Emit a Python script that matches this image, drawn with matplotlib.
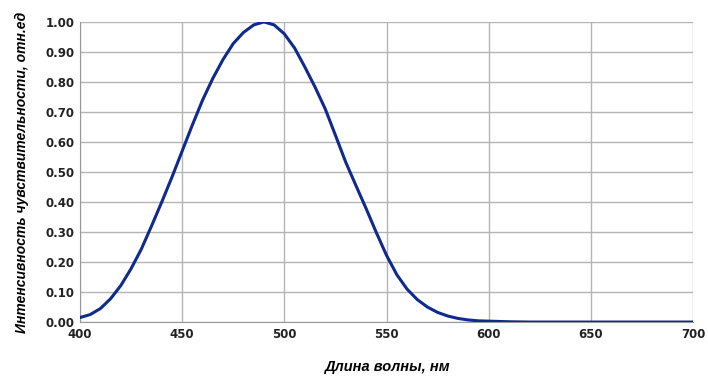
import matplotlib.pyplot as plt
import numpy as np

# wavelength (nm) and relative sensitivity
wavelength = [400, 405, 410, 415, 420, 425, 430, 435, 440, 445, 450, 455,
              460, 465, 470, 475, 480, 485, 490, 495, 500, 505, 510, 515,
              520, 525, 530, 535, 540, 545, 550, 555, 560, 565, 570, 575,
              580, 585, 590, 595, 600, 610, 620, 640, 660, 680, 700]
sensitivity = [0.015, 0.025, 0.045, 0.078, 0.122, 0.178, 0.243, 0.32, 0.40, 0.483,
               0.57, 0.657, 0.74, 0.812, 0.875, 0.928, 0.965, 0.99, 1.00, 0.99,
               0.96, 0.913, 0.85, 0.783, 0.71, 0.622, 0.533, 0.455, 0.378, 0.298,
               0.222, 0.158, 0.11, 0.075, 0.05, 0.032, 0.02, 0.012, 0.007,
               0.004, 0.003, 0.001, 0.0, 0.0, 0.0, 0.0, 0.0]

xticks = [400, 450, 500, 550, 600, 650, 700]
yticks = np.round(np.arange(0, 1.01, 0.1), 2)

label_font = ['Liberation Sans', 'DejaVu Sans']

fig = plt.figure(figsize=(7.08, 3.78), dpi=100)
ax = fig.add_axes([0.113, 0.148, 0.866, 0.794])

ax.plot(wavelength, sensitivity, color='#0d2a8c', lw=2.2, solid_capstyle='round',
        solid_joinstyle='round', zorder=3)

ax.set_xlim(400, 700)
ax.set_ylim(0, 1.0)
ax.set_xticks(xticks)
ax.set_yticks(yticks)
ax.set_yticklabels(['%.2f' % v for v in yticks])
ax.grid(True, color='#b4b4b4', lw=1.0)
ax.tick_params(length=0, labelsize=8.5, pad=4, colors='#222222')
for lbl in ax.get_xticklabels() + ax.get_yticklabels():
    lbl.set_fontweight('bold')

for s in ['top', 'right']:
    ax.spines[s].set_visible(False)
for s in ['left', 'bottom']:
    ax.spines[s].set_color('#999999')

ax.set_xlabel('Длина волны, нм', family=label_font, style='italic',
              fontweight='bold', fontsize=10.5, labelpad=14)
ax.set_ylabel('Интенсивность чувствительности, отн.ед', family=label_font,
              style='italic', fontweight='bold', fontsize=10, labelpad=12)

fig.savefig('out.png', dpi=100, facecolor='white')
